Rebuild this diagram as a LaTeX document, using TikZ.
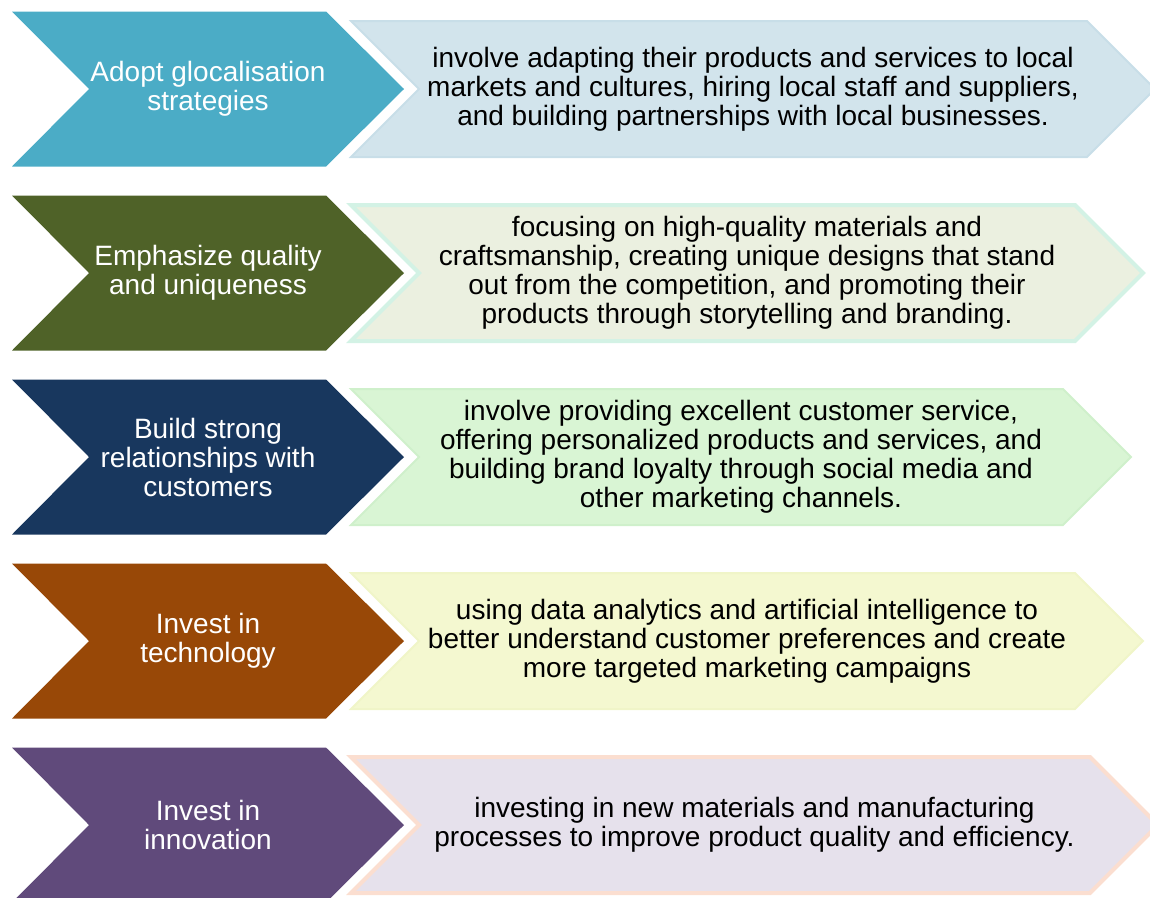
\documentclass[tikz,border=0pt]{standalone}
\usepackage{fontspec}
\setmainfont{Liberation Sans}
\definecolor{cA}{RGB}{75,172,198}
\definecolor{cAl}{RGB}{210,228,236}
\definecolor{cAb}{RGB}{200,222,232}
\definecolor{cB}{RGB}{79,98,40}
\definecolor{cBl}{RGB}{235,240,224}
\definecolor{cBb}{RGB}{211,242,229}
\definecolor{cC}{RGB}{24,55,94}
\definecolor{cCl}{RGB}{217,245,212}
\definecolor{cCb}{RGB}{207,240,203}
\definecolor{cD}{RGB}{152,72,7}
\definecolor{cDl}{RGB}{244,248,208}
\definecolor{cDb}{RGB}{240,245,200}
\definecolor{cE}{RGB}{96,74,123}
\definecolor{cEl}{RGB}{230,225,236}
\definecolor{cEb}{RGB}{251,222,208}
\tikzset{
  lefttext/.style={text=white, align=center, inner sep=0pt, font=\fontsize{28}{29}\selectfont},
  righttext/.style={text=black, align=center, inner sep=0pt, font=\fontsize{28}{29}\selectfont},
}
% #1 name, #2 centre y, #3 dark, #4 light fill, #5 border, #6 right corner x, #7 border width, #8 left text, #9 right text
\newcommand\chevrow[9]{%
  \fill[#3] (12,#2-77.5) -- (326,#2-77.5) -- (404,#2) -- (326,#2+77.5) -- (12,#2+77.5) -- (89,#2) -- cycle;
  \filldraw[fill=#4, draw=#5, line width=#7, line join=miter]
    (351,#2-68) -- (#6,#2-68) -- (#6+68,#2) -- (#6,#2+68) -- (351,#2+68) -- (419,#2) -- cycle;
  \node[lefttext] (#1L) at (208,#2) {#8};
  \node[righttext] (#1R) at ({(419+#6)/2},#2) {#9};
}
\begin{document}
\begin{tikzpicture}[x=1pt,y=-1pt]
\useasboundingbox (0,0) rectangle (1150,897);
\chevrow{a}{89}{cA}{cAl}{cAb}{1087}{2pt}{Adopt glocalisation\\strategies}{involve adapting their products and services to local\\markets and cultures, hiring local staff and suppliers,\\and building partnerships with local businesses.}
\chevrow{b}{273}{cB}{cBl}{cBb}{1075}{4pt}{Emphasize quality\\and uniqueness}{focusing on high-quality materials and\\craftsmanship, creating unique designs that stand\\out from the competition, and promoting their\\products through storytelling and branding.}
\chevrow{c}{457}{cC}{cCl}{cCb}{1063}{2pt}{Build strong\\relationships with\\customers}{involve providing excellent customer service,\\offering personalized products and services, and\\building brand loyalty through social media and\\other marketing channels.}
\chevrow{d}{641}{cD}{cDl}{cDb}{1075}{2pt}{Invest in\\technology}{using data analytics and artificial intelligence to\\better understand customer preferences and create\\more targeted marketing campaigns}
\chevrow{e}{825}{cE}{cEl}{cEb}{1090}{4pt}{Invest in\\innovation}{investing in new materials and manufacturing\\processes to improve product quality and efficiency.}
\end{tikzpicture}
\end{document}
